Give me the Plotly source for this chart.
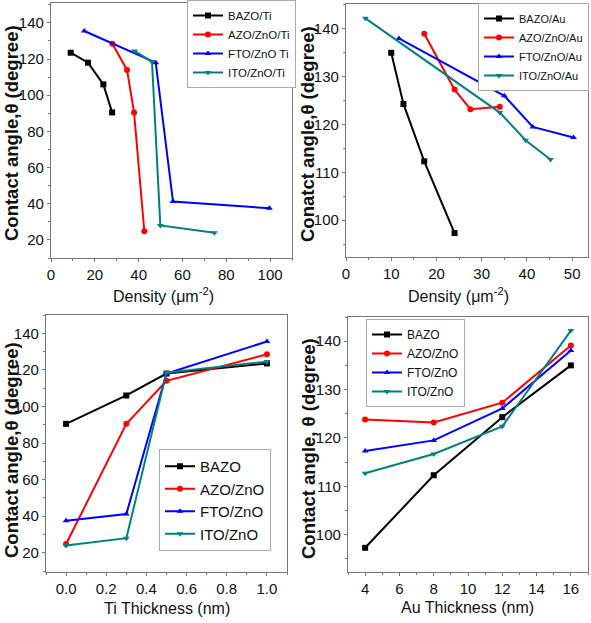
import plotly.graph_objects as go

# ---------------- data ----------------
# Panel (a): contact angle vs density, Ti
ti_bazo_x = [9.0, 16.9, 23.9, 27.9]
ti_bazo_y = [123.5, 118.0, 106.0, 90.5]
ti_azo_x = [28.0, 34.7, 37.9, 42.6]
ti_azo_y = [128.5, 114.0, 90.5, 24.8]
ti_fto_x = [15.2, 47.8, 55.7, 99.7]
ti_fto_y = [135.5, 118.0, 41.2, 37.5]
ti_ito_x = [38.1, 46.1, 49.9, 74.6]
ti_ito_y = [124.5, 118.5, 28.0, 24.0]

# Panel (b): contact angle vs density, Au
au_bazo_x = [10.0, 12.7, 17.3, 24.0]
au_bazo_y = [135.0, 124.3, 112.3, 97.3]
au_azo_x = [17.3, 24.0, 27.5, 34.0]
au_azo_y = [139.0, 127.3, 123.2, 123.7]
au_fto_x = [11.7, 35.0, 41.3, 50.3]
au_fto_y = [138.0, 126.0, 119.5, 117.3]
au_ito_x = [4.3, 34.0, 39.7, 45.2]
au_ito_y = [142.2, 122.5, 116.7, 112.7]

# Panel (c): contact angle vs Ti thickness
ti_thick = [0.0, 0.3, 0.5, 1.0]
tt_bazo = [90.5, 106.0, 118.0, 123.5]
tt_azo = [24.8, 90.5, 114.0, 128.5]
tt_fto = [37.5, 41.2, 118.0, 135.5]
tt_ito = [24.0, 28.0, 118.5, 124.5]

# Panel (d): contact angle vs Au thickness
au_thick = [4, 8, 12, 16]
at_bazo = [97.3, 112.3, 124.3, 135.0]
at_azo = [123.8, 123.2, 127.3, 139.1]
at_fto = [117.3, 119.5, 126.1, 138.1]
at_ito = [112.7, 116.7, 122.4, 142.2]

names_a = ["BAZO/Ti", "AZO/ZnO/Ti", "FTO/ZnO Ti", "ITO/ZnO/Ti"]
names_b = ["BAZO/Au", "AZO/ZnO/Au", "FTO/ZnO/Au", "ITO/ZnO/Au"]
names_c = ["BAZO", "AZO/ZnO", "FTO/ZnO", "ITO/ZnO"]
names_d = ["BAZO", "AZO/ZnO", "FTO/ZnO", "ITO/ZnO"]

colors = ["#000000", "#ff0000", "#0000ff", "#008080"]
symbols = ["square", "circle", "triangle-up", "triangle-down"]

FONT = "Liberation Sans, Arial, sans-serif"

fig = go.Figure()

panels = [
    ("x", "y", "legend",
     [ti_bazo_x, ti_azo_x, ti_fto_x, ti_ito_x],
     [ti_bazo_y, ti_azo_y, ti_fto_y, ti_ito_y], names_a),
    ("x2", "y2", "legend2",
     [au_bazo_x, au_azo_x, au_fto_x, au_ito_x],
     [au_bazo_y, au_azo_y, au_fto_y, au_ito_y], names_b),
    ("x3", "y3", "legend3",
     [ti_thick] * 4, [tt_bazo, tt_azo, tt_fto, tt_ito], names_c),
    ("x4", "y4", "legend4",
     [au_thick] * 4, [at_bazo, at_azo, at_fto, at_ito], names_d),
]

for xa, ya, lg, xs, ys, names in panels:
    for i in range(4):
        fig.add_trace(go.Scatter(
            x=xs[i], y=ys[i], name=names[i], mode="lines+markers",
            line=dict(color=colors[i], width=2),
            marker=dict(symbol=symbols[i], size=6, color=colors[i]),
            xaxis=xa, yaxis=ya, legend=lg, showlegend=True,
        ))

W, H = 591, 623

def dom_x(l, r):
    return [l / W, r / W]

def dom_y(t, b):
    return [1 - b / H, 1 - t / H]

axis_common = dict(
    showline=True, mirror=True, linecolor="#777777", linewidth=1.2,
    ticks="outside", ticklen=3, tickwidth=1, tickcolor="#777777",
    showgrid=False, zeroline=False,
    tickfont=dict(family=FONT, size=15, color="#111111"),
)

def mk(domain, rng, dtick, minor, anchor, tick0=0, fmt=None):
    d = dict(axis_common)
    d.update(domain=domain, range=rng, dtick=dtick, tick0=tick0, anchor=anchor,
             minor=dict(ticks="outside", ticklen=2, dtick=minor, tick0=tick0,
                        tickcolor="#777777", showgrid=False))
    if fmt:
        d["tickformat"] = fmt
    return d

fig.update_layout(
    width=W, height=H,
    margin=dict(l=0, r=0, t=0, b=0, autoexpand=False),
    paper_bgcolor="white", plot_bgcolor="white",
    xaxis=mk(dom_x(51, 292), [0, 110], 20, 10, "y"),
    yaxis=mk(dom_y(3, 258), [10, 151], 20, 10, "x"),
    xaxis2=mk(dom_x(346, 588), [0, 53.5], 10, 5, "y2"),
    yaxis2=mk(dom_y(4, 257), [92.3, 145.2], 10, 5, "x2"),
    xaxis3=mk(dom_x(46, 287), [-0.1, 1.1], 0.2, 0.1, "y3", fmt=".1f"),
    yaxis3=mk(dom_y(315, 572), [9.5, 150], 20, 10, "x3"),
    xaxis4=mk(dom_x(348, 588), [3, 17], 2, 1, "y4"),
    yaxis4=mk(dom_y(317, 572), [92.3, 145], 10, 5, "x4"),
)

leg_common = dict(bgcolor="white", bordercolor="#aaaaaa", borderwidth=1,
                  xanchor="left", yanchor="top", itemwidth=30,
                  tracegroupgap=0)

fig.update_layout(
    legend=dict(leg_common, x=187 / W, y=1.0,
                font=dict(family=FONT, size=11.5, color="#111111")),
    legend2=dict(leg_common, x=478 / W, y=1 - 3 / H,
                 font=dict(family=FONT, size=11, color="#111111")),
    legend3=dict(leg_common, x=159 / W, y=1 - 449 / H,
                 font=dict(family=FONT, size=15, color="#111111")),
    legend4=dict(leg_common, x=366 / W, y=1 - 319 / H,
                 font=dict(family=FONT, size=12, color="#111111")),
)

ytitle_font = dict(family=FONT, size=18.5, color="#111111")
xtitle_font = dict(family=FONT, size=16, color="#111111")

ann = [
    dict(text="<b>Contact angle,θ (degree)</b>", x=12 / W, y=1 - 133 / H,
         textangle=-90, font=ytitle_font),
    dict(text="<b>Conatct angle,θ (degree)</b>", x=308 / W, y=1 - 134 / H,
         textangle=-90, font=ytitle_font),
    dict(text="<b>Contact angle,θ (degree)</b>", x=11 / W, y=1 - 450 / H,
         textangle=-90, font=ytitle_font),
    dict(text="<b>Contact angle, θ (degree)</b>", x=308 / W, y=1 - 449 / H,
         textangle=-90, font=ytitle_font),
    dict(text="Density (μm<sup>-2</sup>)", x=163 / W, y=1 - 295 / H,
         font=xtitle_font),
    dict(text="Density (μm<sup>-2</sup>)", x=458 / W, y=1 - 295 / H,
         font=xtitle_font),
    dict(text="Ti Thickness (nm)", x=167 / W, y=1 - 608 / H, font=xtitle_font),
    dict(text="Au Thickness (nm)", x=467 / W, y=1 - 607 / H, font=xtitle_font),
]
for a in ann:
    a.update(xref="paper", yref="paper", showarrow=False,
             xanchor="center", yanchor="middle")
fig.update_layout(annotations=ann)

fig.write_html(
    "out.html",
    config={"displayModeBar": False},
    post_script="document.body.style.margin='0';document.body.style.overflow='hidden';",
)
